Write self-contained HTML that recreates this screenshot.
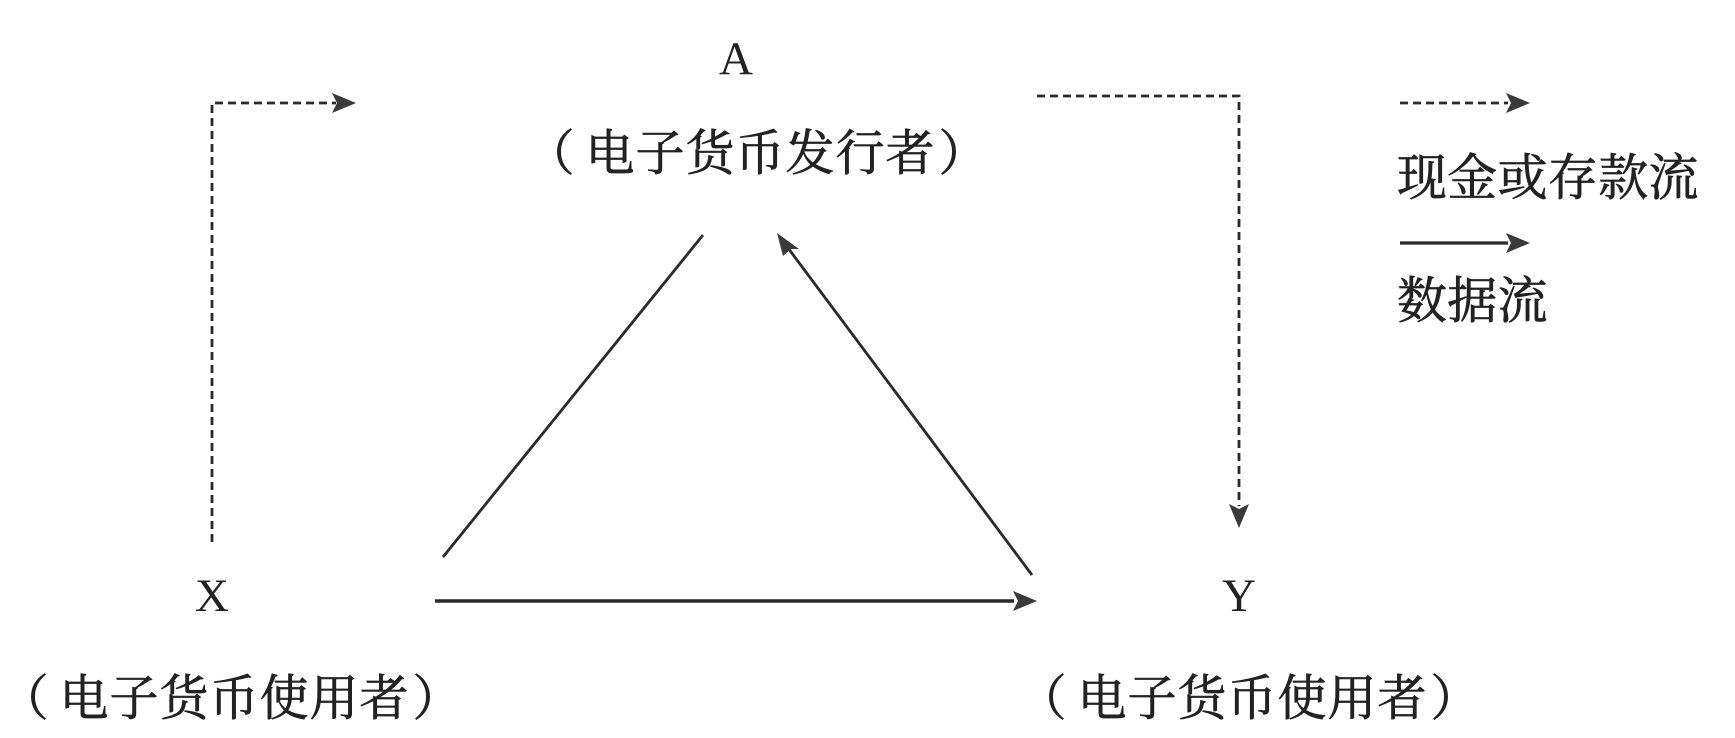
<!DOCTYPE html>
<html><head><meta charset="utf-8"><style>
html,body{margin:0;padding:0;background:#fff;}
svg{display:block;}
.l{font-family:"Liberation Serif",serif;font-size:47px;fill:#222;}
.c{font-family:"Noto Serif CJK SC",serif;font-size:49px;fill:#222;stroke:#222;stroke-width:0.7;}
.g{font-family:"Noto Serif CJK SC",serif;font-size:50px;fill:#222;stroke:#222;stroke-width:0.7;}
</style></head><body>
<svg width="1735" height="738" viewBox="0 0 1735 738" xmlns="http://www.w3.org/2000/svg">
<g stroke="#2a2a2a" stroke-width="2.8" fill="none">
<path d="M212 542 L212 103 L336 103" stroke-dasharray="8 5"/>
<path d="M1037 96 L1239 96 L1239 506" stroke-dasharray="8 5"/>
<path d="M1400 103 L1508 103" stroke-dasharray="8 5"/>
<path d="M1400 243 L1508 243" stroke-width="3.2"/>
<path d="M443 557 L703 235"/>
<path d="M1032 575 L788 248"/>
<path d="M435 601 L1014 601" stroke-width="3.6"/>
</g>
<g fill="#3a3a3a">
<polygon points="356,103 332,93 337,103 332,113"/>
<polygon points="1239,528 1229,504 1239,509 1249,504"/>
<polygon points="1530,103 1506,93 1511,103 1506,113"/>
<polygon points="1530,243 1506,233 1511,243 1506,253"/>
<polygon points="1037,601 1013,591 1018,601 1013,611"/>
<polygon points="777,233 799,249 791,249 783,256"/>
</g>
<text class="l" x="736" y="74" text-anchor="middle">A</text>
<text class="l" x="212" y="611" text-anchor="middle">X</text>
<text class="l" x="1239" y="611" text-anchor="middle">Y</text>
<text class="c" text-anchor="middle" y="170" x="550 610 660 710 760 810 860 910 963">（电子货币发行者）</text>
<g transform="translate(-526,545)">
<text class="c" text-anchor="middle" y="170" x="550 610 660 710 760 810 860 910 963">（电子货币使用者）</text>
</g>
<g transform="translate(492,545)">
<text class="c" text-anchor="middle" y="170" x="550 610 660 710 760 810 860 910 963">（电子货币使用者）</text>
</g>
<text class="g" text-anchor="middle" y="195" x="1422 1472.3 1522.6 1572.9 1623.2 1673.5">现金或存款流</text>
<text class="g" text-anchor="middle" y="318" x="1422 1472.3 1522.6">数据流</text>
</svg>
</body></html>
